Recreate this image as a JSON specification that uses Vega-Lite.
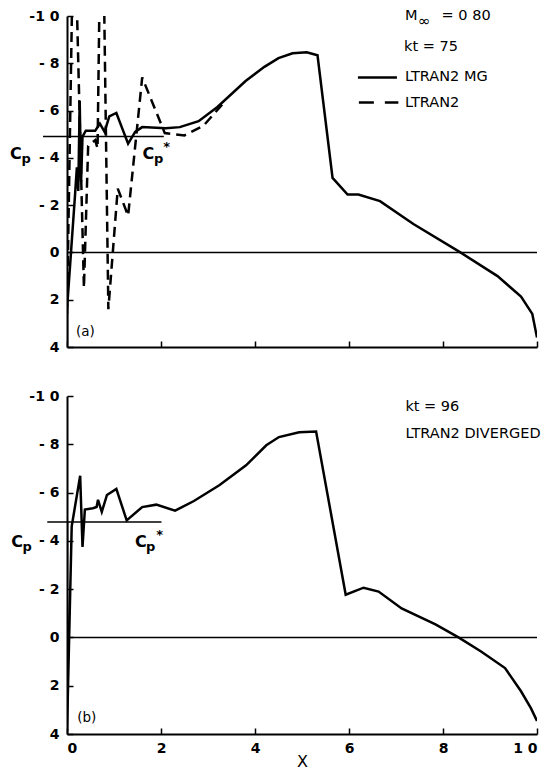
{
  "$schema": "https://vega.github.io/schema/vega-lite/v6.json",
  "padding": {"left": 9, "top": 8, "right": 2, "bottom": 2},
  "spacing": 35,
  "config": {
    "view": {"stroke": null},
    "font": "DejaVu Sans",
    "axis": {"grid": false, "domainColor": "black", "domainWidth": 2, "tickColor": "black", "tickWidth": 1.5, "tickSize": -6, "labelColor": "black", "labelFont": "DejaVu Sans", "labelFontSize": 14, "labelFontWeight": "bold"}
  },
  "datasets": {
    "curves": [
      {"panel": "a", "series": "MG", "i": 0, "x": 0.0, "cp": 3.8},
      {"panel": "a", "series": "MG", "i": 1, "x": 0.0, "cp": 2.4},
      {"panel": "a", "series": "MG", "i": 2, "x": 0.17, "cp": -2.4},
      {"panel": "a", "series": "MG", "i": 3, "x": 0.21, "cp": -3.6},
      {"panel": "a", "series": "MG", "i": 4, "x": 0.24, "cp": -2.6},
      {"panel": "a", "series": "MG", "i": 5, "x": 0.27, "cp": -6.4},
      {"panel": "a", "series": "MG", "i": 6, "x": 0.3, "cp": -3.0},
      {"panel": "a", "series": "MG", "i": 7, "x": 0.33, "cp": -4.9},
      {"panel": "a", "series": "MG", "i": 8, "x": 0.4, "cp": -5.15},
      {"panel": "a", "series": "MG", "i": 9, "x": 0.6, "cp": -5.15},
      {"panel": "a", "series": "MG", "i": 10, "x": 0.7, "cp": -5.45},
      {"panel": "a", "series": "MG", "i": 11, "x": 0.8, "cp": -5.1},
      {"panel": "a", "series": "MG", "i": 12, "x": 0.9, "cp": -5.75},
      {"panel": "a", "series": "MG", "i": 13, "x": 1.05, "cp": -5.9},
      {"panel": "a", "series": "MG", "i": 14, "x": 1.3, "cp": -4.6},
      {"panel": "a", "series": "MG", "i": 15, "x": 1.45, "cp": -5.1},
      {"panel": "a", "series": "MG", "i": 16, "x": 1.6, "cp": -5.3},
      {"panel": "a", "series": "MG", "i": 17, "x": 2.1, "cp": -5.25},
      {"panel": "a", "series": "MG", "i": 18, "x": 2.4, "cp": -5.3},
      {"panel": "a", "series": "MG", "i": 19, "x": 2.8, "cp": -5.55},
      {"panel": "a", "series": "MG", "i": 20, "x": 3.2, "cp": -6.15},
      {"panel": "a", "series": "MG", "i": 21, "x": 3.8, "cp": -7.25},
      {"panel": "a", "series": "MG", "i": 22, "x": 4.2, "cp": -7.85},
      {"panel": "a", "series": "MG", "i": 23, "x": 4.5, "cp": -8.22},
      {"panel": "a", "series": "MG", "i": 24, "x": 4.8, "cp": -8.42},
      {"panel": "a", "series": "MG", "i": 25, "x": 5.1, "cp": -8.47},
      {"panel": "a", "series": "MG", "i": 26, "x": 5.33, "cp": -8.34},
      {"panel": "a", "series": "MG", "i": 27, "x": 5.65, "cp": -3.15},
      {"panel": "a", "series": "MG", "i": 28, "x": 5.97, "cp": -2.45},
      {"panel": "a", "series": "MG", "i": 29, "x": 6.2, "cp": -2.45},
      {"panel": "a", "series": "MG", "i": 30, "x": 6.66, "cp": -2.17},
      {"panel": "a", "series": "MG", "i": 31, "x": 7.37, "cp": -1.2},
      {"panel": "a", "series": "MG", "i": 32, "x": 8.37, "cp": 0.0},
      {"panel": "a", "series": "MG", "i": 33, "x": 9.16, "cp": 1.0},
      {"panel": "a", "series": "MG", "i": 34, "x": 9.66, "cp": 1.87},
      {"panel": "a", "series": "MG", "i": 35, "x": 9.9, "cp": 2.6},
      {"panel": "a", "series": "MG", "i": 36, "x": 10.0, "cp": 3.6},
      {"panel": "a", "series": "L2", "i": 0, "x": 0.0, "cp": 2.6},
      {"panel": "a", "series": "L2", "i": 1, "x": 0.12, "cp": -12},
      {"panel": "a", "series": "L2", "i": 2, "x": 0.19, "cp": -12},
      {"panel": "a", "series": "L2", "i": 3, "x": 0.36, "cp": 1.5},
      {"panel": "a", "series": "L2", "i": 4, "x": 0.45, "cp": -4.5},
      {"panel": "a", "series": "L2", "i": 5, "x": 0.6, "cp": -4.75},
      {"panel": "a", "series": "L2", "i": 6, "x": 0.65, "cp": -4.4},
      {"panel": "a", "series": "L2", "i": 7, "x": 0.7, "cp": -12},
      {"panel": "a", "series": "L2", "i": 8, "x": 0.78, "cp": -12},
      {"panel": "a", "series": "L2", "i": 9, "x": 0.88, "cp": 2.4},
      {"panel": "a", "series": "L2", "i": 10, "x": 1.08, "cp": -2.7},
      {"panel": "a", "series": "L2", "i": 11, "x": 1.3, "cp": -1.55},
      {"panel": "a", "series": "L2", "i": 12, "x": 1.6, "cp": -7.4},
      {"panel": "a", "series": "L2", "i": 13, "x": 2.08, "cp": -5.05},
      {"panel": "a", "series": "L2", "i": 14, "x": 2.5, "cp": -4.95},
      {"panel": "a", "series": "L2", "i": 15, "x": 2.9, "cp": -5.35},
      {"panel": "a", "series": "L2", "i": 16, "x": 3.3, "cp": -6.25},
      {"panel": "b", "series": "MG", "i": 0, "x": 0.0, "cp": -4.8},
      {"panel": "b", "series": "MG", "i": 1, "x": 0.0, "cp": 3.9},
      {"panel": "b", "series": "MG", "i": 2, "x": 0.1, "cp": -4.6},
      {"panel": "b", "series": "MG", "i": 3, "x": 0.28, "cp": -6.7},
      {"panel": "b", "series": "MG", "i": 4, "x": 0.33, "cp": -3.75},
      {"panel": "b", "series": "MG", "i": 5, "x": 0.38, "cp": -5.3},
      {"panel": "b", "series": "MG", "i": 6, "x": 0.55, "cp": -5.35},
      {"panel": "b", "series": "MG", "i": 7, "x": 0.63, "cp": -5.4},
      {"panel": "b", "series": "MG", "i": 8, "x": 0.66, "cp": -5.7},
      {"panel": "b", "series": "MG", "i": 9, "x": 0.74, "cp": -5.2},
      {"panel": "b", "series": "MG", "i": 10, "x": 0.85, "cp": -5.9},
      {"panel": "b", "series": "MG", "i": 11, "x": 1.05, "cp": -6.15},
      {"panel": "b", "series": "MG", "i": 12, "x": 1.27, "cp": -4.85},
      {"panel": "b", "series": "MG", "i": 13, "x": 1.6, "cp": -5.4},
      {"panel": "b", "series": "MG", "i": 14, "x": 1.9, "cp": -5.5},
      {"panel": "b", "series": "MG", "i": 15, "x": 2.3, "cp": -5.25},
      {"panel": "b", "series": "MG", "i": 16, "x": 2.7, "cp": -5.65},
      {"panel": "b", "series": "MG", "i": 17, "x": 3.24, "cp": -6.3},
      {"panel": "b", "series": "MG", "i": 18, "x": 3.81, "cp": -7.13},
      {"panel": "b", "series": "MG", "i": 19, "x": 4.24, "cp": -7.96},
      {"panel": "b", "series": "MG", "i": 20, "x": 4.51, "cp": -8.3},
      {"panel": "b", "series": "MG", "i": 21, "x": 4.94, "cp": -8.5},
      {"panel": "b", "series": "MG", "i": 22, "x": 5.3, "cp": -8.53},
      {"panel": "b", "series": "MG", "i": 23, "x": 5.93, "cp": -1.77},
      {"panel": "b", "series": "MG", "i": 24, "x": 6.31, "cp": -2.06},
      {"panel": "b", "series": "MG", "i": 25, "x": 6.63, "cp": -1.9},
      {"panel": "b", "series": "MG", "i": 26, "x": 7.12, "cp": -1.2},
      {"panel": "b", "series": "MG", "i": 27, "x": 7.84, "cp": -0.54},
      {"panel": "b", "series": "MG", "i": 28, "x": 8.33, "cp": 0.0},
      {"panel": "b", "series": "MG", "i": 29, "x": 8.81, "cp": 0.58},
      {"panel": "b", "series": "MG", "i": 30, "x": 9.32, "cp": 1.27},
      {"panel": "b", "series": "MG", "i": 31, "x": 9.66, "cp": 2.23},
      {"panel": "b", "series": "MG", "i": 32, "x": 9.87, "cp": 2.93},
      {"panel": "b", "series": "MG", "i": 33, "x": 10.0, "cp": 3.46}
    ],
    "refs": [
      {"panel": "a", "kind": "zero", "x": 0, "x2": 10, "cp": 0},
      {"panel": "a", "kind": "cpstar", "x": -0.51, "x2": 2.06, "cp": -4.9},
      {"panel": "b", "kind": "zero", "x": 0, "x2": 10, "cp": 0},
      {"panel": "b", "kind": "cpstar", "x": -0.42, "x2": 2.01, "cp": -4.78}
    ],
    "legend": [
      {"panel": "a", "series": "MG", "x": 6.19, "x2": 7.02, "cp": -7.4},
      {"panel": "a", "series": "L2", "x": 6.21, "x2": 7.05, "cp": -6.34}
    ],
    "labels": [
      {"panel": "a", "kind": "C", "text": "C", "x": -1.09, "cp": -4.17},
      {"panel": "a", "kind": "sub", "text": "p", "x": -0.87, "cp": -3.95},
      {"panel": "a", "kind": "C", "text": "C", "x": 1.73, "cp": -4.17},
      {"panel": "a", "kind": "sub", "text": "p", "x": 1.95, "cp": -3.95},
      {"panel": "a", "kind": "sub", "text": "*", "x": 2.12, "cp": -4.45},
      {"panel": "a", "kind": "note", "text": "(a)", "x": 0.39, "cp": 3.36},
      {"panel": "a", "kind": "legend", "text": "M", "x": 7.19, "cp": -10.0},
      {"panel": "a", "kind": "inf", "text": "∞", "x": 7.47, "cp": -9.8},
      {"panel": "a", "kind": "legend", "text": "=  0 80", "x": 7.97, "cp": -10.0},
      {"panel": "a", "kind": "legend", "text": "kt  =  75", "x": 7.17, "cp": -8.68},
      {"panel": "a", "kind": "legend", "text": "LTRAN2 MG", "x": 7.19, "cp": -7.4},
      {"panel": "a", "kind": "legend", "text": "LTRAN2", "x": 7.19, "cp": -6.34},
      {"panel": "b", "kind": "C", "text": "C", "x": -1.06, "cp": -3.96},
      {"panel": "b", "kind": "sub", "text": "p", "x": -0.85, "cp": -3.74},
      {"panel": "b", "kind": "C", "text": "C", "x": 1.57, "cp": -3.96},
      {"panel": "b", "kind": "sub", "text": "p", "x": 1.78, "cp": -3.74},
      {"panel": "b", "kind": "sub", "text": "*", "x": 1.97, "cp": -4.25},
      {"panel": "b", "kind": "note", "text": "(b)", "x": 0.42, "cp": 3.34},
      {"panel": "b", "kind": "legend", "text": "kt  =  96", "x": 7.2, "cp": -9.53},
      {"panel": "b", "kind": "legend", "text": "LTRAN2 DIVERGED", "x": 7.2, "cp": -8.41}
    ]
  },
  "vconcat": [
    {
      "width": 470,
      "height": 331,
      "layer": [
        {
          "data": {"name": "refs"},
          "transform": [{"filter": "datum.panel == 'a'"}],
          "mark": {"type": "rule", "color": "black", "strokeWidth": 1.5},
          "encoding": {
            "x": {"field": "x", "type": "quantitative", "scale": {"domain": [0, 10], "nice": false, "zero": false},
              "axis": {"values": [0, 2, 4, 6, 8, 10], "labels": false, "title": null}},
            "x2": {"field": "x2"},
            "y": {"field": "cp", "type": "quantitative", "scale": {"domain": [-10, 4], "reverse": true, "nice": false, "zero": false},
              "axis": {"values": [-10, -8, -6, -4, -2, 0, 2, 4], "title": null, "labelPadding": 14,
                "labelExpr": "datum.value == -10 ? '-1 0' : (datum.value < 0 ? '- ' + (-datum.value) : '' + datum.value)"}}
          }
        },
        {
          "data": {"name": "curves"},
          "transform": [{"filter": "datum.panel == 'a' && datum.series == 'L2'"}],
          "mark": {"type": "line", "color": "black", "strokeWidth": 2.5, "strokeDash": [10, 6], "clip": true},
          "encoding": {
            "x": {"field": "x", "type": "quantitative"},
            "y": {"field": "cp", "type": "quantitative"},
            "order": {"field": "i", "type": "quantitative"}
          }
        },
        {
          "data": {"name": "curves"},
          "transform": [{"filter": "datum.panel == 'a' && datum.series == 'MG'"}],
          "mark": {"type": "line", "color": "black", "strokeWidth": 2.5, "clip": true},
          "encoding": {
            "x": {"field": "x", "type": "quantitative"},
            "y": {"field": "cp", "type": "quantitative"},
            "order": {"field": "i", "type": "quantitative"}
          }
        },
        {
          "data": {"name": "legend"},
          "transform": [{"filter": "datum.series == 'MG'"}],
          "mark": {"type": "rule", "color": "black", "strokeWidth": 2.5},
          "encoding": {"x": {"field": "x", "type": "quantitative"}, "x2": {"field": "x2"}, "y": {"field": "cp", "type": "quantitative"}}
        },
        {
          "data": {"name": "legend"},
          "transform": [{"filter": "datum.series == 'L2'"}],
          "mark": {"type": "rule", "color": "black", "strokeWidth": 2.5, "strokeDash": [15, 11]},
          "encoding": {"x": {"field": "x", "type": "quantitative"}, "x2": {"field": "x2"}, "y": {"field": "cp", "type": "quantitative"}}
        },
        {
          "data": {"name": "labels"},
          "transform": [{"filter": "datum.panel == 'a' && datum.kind == 'C'"}],
          "mark": {"type": "text", "font": "DejaVu Sans", "fontSize": 16, "fontWeight": "bold", "color": "black", "align": "center", "baseline": "middle"},
          "encoding": {"x": {"field": "x", "type": "quantitative"}, "y": {"field": "cp", "type": "quantitative"}, "text": {"field": "text"}}
        },
        {
          "data": {"name": "labels"},
          "transform": [{"filter": "datum.panel == 'a' && datum.kind == 'sub'"}],
          "mark": {"type": "text", "font": "DejaVu Sans", "fontSize": 13, "fontWeight": "bold", "color": "black", "align": "center", "baseline": "middle"},
          "encoding": {"x": {"field": "x", "type": "quantitative"}, "y": {"field": "cp", "type": "quantitative"}, "text": {"field": "text"}}
        },
        {
          "data": {"name": "labels"},
          "transform": [{"filter": "datum.panel == 'a' && datum.kind == 'note'"}],
          "mark": {"type": "text", "font": "DejaVu Sans", "fontSize": 13.5, "color": "black", "align": "center", "baseline": "middle"},
          "encoding": {"x": {"field": "x", "type": "quantitative"}, "y": {"field": "cp", "type": "quantitative"}, "text": {"field": "text"}}
        },
        {
          "data": {"name": "labels"},
          "transform": [{"filter": "datum.panel == 'a' && datum.kind == 'legend'"}],
          "mark": {"type": "text", "font": "DejaVu Sans", "fontSize": 14.5, "color": "black", "align": "left", "baseline": "middle"},
          "encoding": {"x": {"field": "x", "type": "quantitative"}, "y": {"field": "cp", "type": "quantitative"}, "text": {"field": "text"}}
        },
        {
          "data": {"name": "labels"},
          "transform": [{"filter": "datum.panel == 'a' && datum.kind == 'inf'"}],
          "mark": {"type": "text", "font": "DejaVu Sans", "fontSize": 15, "color": "black", "align": "left", "baseline": "middle"},
          "encoding": {"x": {"field": "x", "type": "quantitative"}, "y": {"field": "cp", "type": "quantitative"}, "text": {"field": "text"}}
        }
      ]
    },
    {
      "width": 470,
      "height": 338,
      "layer": [
        {
          "data": {"name": "refs"},
          "transform": [{"filter": "datum.panel == 'b'"}],
          "mark": {"type": "rule", "color": "black", "strokeWidth": 1.5},
          "encoding": {
            "x": {"field": "x", "type": "quantitative", "scale": {"domain": [0, 10], "nice": false, "zero": false},
              "axis": {"values": [0, 2, 4, 6, 8, 10], "title": "X", "titleFont": "DejaVu Sans", "titleFontSize": 16, "titleFontWeight": "normal", "titleColor": "black", "titlePadding": -2, "labelPadding": 13,
                "labelExpr": "datum.value == 10 ? '1 0' : datum.label"}},
            "x2": {"field": "x2"},
            "y": {"field": "cp", "type": "quantitative", "scale": {"domain": [-10, 4], "reverse": true, "nice": false, "zero": false},
              "axis": {"values": [-10, -8, -6, -4, -2, 0, 2, 4], "title": null, "labelPadding": 14,
                "labelExpr": "datum.value == -10 ? '-1 0' : (datum.value < 0 ? '- ' + (-datum.value) : '' + datum.value)"}}
          }
        },
        {
          "data": {"name": "curves"},
          "transform": [{"filter": "datum.panel == 'b' && datum.series == 'MG'"}],
          "mark": {"type": "line", "color": "black", "strokeWidth": 2.5, "clip": true},
          "encoding": {
            "x": {"field": "x", "type": "quantitative"},
            "y": {"field": "cp", "type": "quantitative"},
            "order": {"field": "i", "type": "quantitative"}
          }
        },
        {
          "data": {"name": "labels"},
          "transform": [{"filter": "datum.panel == 'b' && datum.kind == 'C'"}],
          "mark": {"type": "text", "font": "DejaVu Sans", "fontSize": 16, "fontWeight": "bold", "color": "black", "align": "center", "baseline": "middle"},
          "encoding": {"x": {"field": "x", "type": "quantitative"}, "y": {"field": "cp", "type": "quantitative"}, "text": {"field": "text"}}
        },
        {
          "data": {"name": "labels"},
          "transform": [{"filter": "datum.panel == 'b' && datum.kind == 'sub'"}],
          "mark": {"type": "text", "font": "DejaVu Sans", "fontSize": 13, "fontWeight": "bold", "color": "black", "align": "center", "baseline": "middle"},
          "encoding": {"x": {"field": "x", "type": "quantitative"}, "y": {"field": "cp", "type": "quantitative"}, "text": {"field": "text"}}
        },
        {
          "data": {"name": "labels"},
          "transform": [{"filter": "datum.panel == 'b' && datum.kind == 'note'"}],
          "mark": {"type": "text", "font": "DejaVu Sans", "fontSize": 13.5, "color": "black", "align": "center", "baseline": "middle"},
          "encoding": {"x": {"field": "x", "type": "quantitative"}, "y": {"field": "cp", "type": "quantitative"}, "text": {"field": "text"}}
        },
        {
          "data": {"name": "labels"},
          "transform": [{"filter": "datum.panel == 'b' && datum.kind == 'legend'"}],
          "mark": {"type": "text", "font": "DejaVu Sans", "fontSize": 14.5, "color": "black", "align": "left", "baseline": "middle"},
          "encoding": {"x": {"field": "x", "type": "quantitative"}, "y": {"field": "cp", "type": "quantitative"}, "text": {"field": "text"}}
        }
      ]
    }
  ]
}
